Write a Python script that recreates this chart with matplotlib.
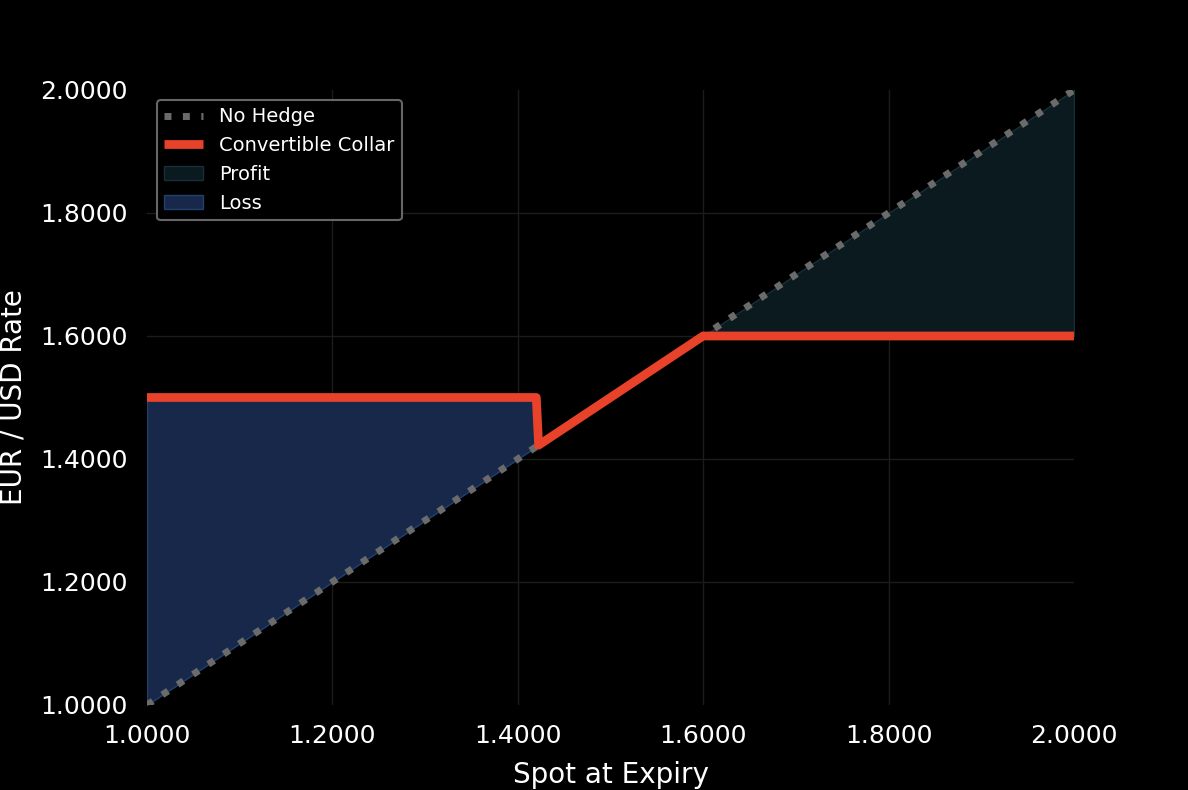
import numpy as np
import matplotlib.pyplot as plt
from matplotlib.ticker import FormatStrFormatter

# spot rate at expiry (breakpoints of the payoff)
spot = np.array([1.0, 1.42, 1.4225, 1.6, 2.0])
# unhedged rate = spot
no_hedge = np.array([1.0, 1.42, 1.4225, 1.6, 2.0])
# convertible collar effective rate
collar = np.array([1.5, 1.5, 1.4225, 1.6, 1.6])

ticks = [1.0, 1.2, 1.4, 1.6, 1.8, 2.0]

fig = plt.figure(figsize=(11.88, 7.9), dpi=100, facecolor="black")
ax = fig.add_axes([0.1237, 0.1076, 0.7803, 0.7785], facecolor="black")

# shaded regions
ax.fill_between(spot, no_hedge, collar, where=no_hedge >= collar, interpolate=True,
                facecolor="#0b1a1f", edgecolor="#15303a", linewidth=1, label="Profit", zorder=1)
ax.fill_between(spot, no_hedge, collar, where=collar >= no_hedge, interpolate=True,
                facecolor="#17284a", edgecolor="#22406e", linewidth=1, label="Loss", zorder=1)

ax.plot(spot, no_hedge, color="#6b6b6b", linestyle=":", linewidth=5, label="No Hedge", zorder=2)
ax.plot(spot, collar, color="#e8432a", linewidth=6.3, label="Convertible Collar", zorder=3,
        solid_joinstyle="round", solid_capstyle="butt")

ax.set_xlim(1.0, 2.0)
ax.set_ylim(1.0, 2.0)
ax.set_xticks(ticks)
ax.set_yticks(ticks)
ax.xaxis.set_major_formatter(FormatStrFormatter("%.4f"))
ax.yaxis.set_major_formatter(FormatStrFormatter("%.4f"))
ax.tick_params(colors="white", labelsize=18, length=0, pad=14)
ax.grid(True, color="#1c1c1c", linewidth=1)
ax.set_axisbelow(True)
for s in ax.spines.values():
    s.set_visible(False)
# no grid lines on the plot edges
for axis in (ax.xaxis, ax.yaxis):
    tks = axis.get_major_ticks()
    tks[0].gridline.set_visible(False)
    tks[-1].gridline.set_visible(False)

ax.set_xlabel("Spot at Expiry", color="white", fontsize=20, labelpad=9)
ax.set_ylabel("EUR / USD Rate", color="white", fontsize=20, labelpad=9)

h, l = ax.get_legend_handles_labels()
order = [l.index(n) for n in ["No Hedge", "Convertible Collar", "Profit", "Loss"]]
leg = ax.legend([h[i] for i in order], [l[i] for i in order], loc="upper left",
                fontsize=14, facecolor="black", edgecolor="#666666", framealpha=1,
                labelcolor="white")
leg.get_frame().set_linewidth(1.5)

fig.savefig("out.png", dpi=100, facecolor="black")
